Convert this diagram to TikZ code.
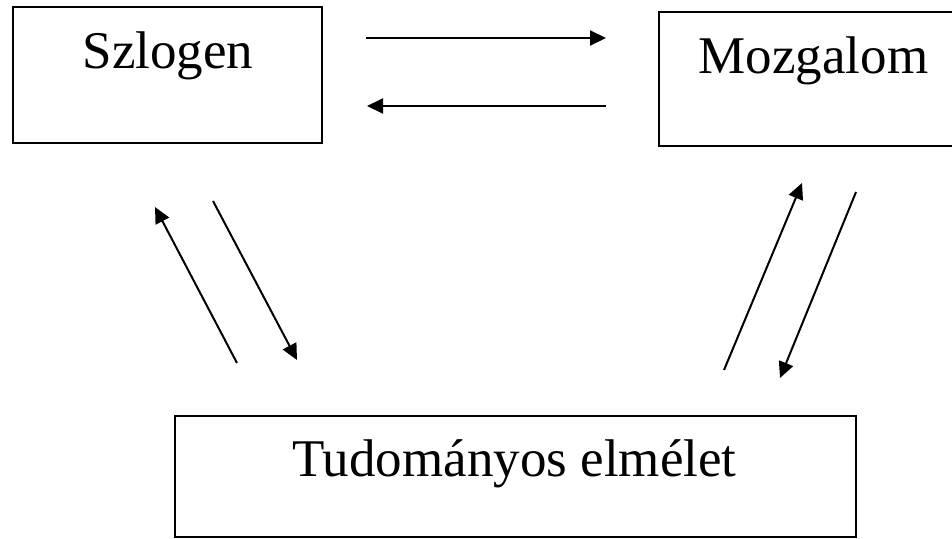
\documentclass[tikz,border=0pt]{standalone}
\usepackage{fontspec}
\setmainfont{Liberation Serif}
\usetikzlibrary{arrows.meta}
\begin{document}
\begin{tikzpicture}[x=1pt,y=-1pt,
  box/.style={draw=black, line width=2pt, inner sep=0pt, outer sep=0pt},
  lbl/.style={anchor=base, inner sep=0pt, font=\fontsize{53}{60}\selectfont},
  conn/.style={line width=2pt, -{Triangle[length=16pt,width=15pt]}}]
\useasboundingbox (0,0) rectangle (952,538);
% boxes
\node[box, minimum width=309pt, minimum height=136pt] (szl) at (167.5,75) {};
\node[box, minimum width=309pt, minimum height=134pt] (moz) at (813.5,79) {};
\node[box, minimum width=681pt, minimum height=121pt] (tud) at (515.5,476.5) {};
% labels
\node[lbl] (szlt) at (168,68) {Szlogen};
\node[lbl] (mozt) at (813.5,73) {Mozgalom};
\node[lbl] (tudt) at (514.5,476) {Tudományos elmélet};
% connector end points
\coordinate (a1s) at (366,38);  \coordinate (a1e) at (606,38);
\coordinate (a2s) at (606,106); \coordinate (a2e) at (367,106);
\coordinate (a3s) at (237,363); \coordinate (a3e) at (155,207);
\coordinate (a4s) at (213,201); \coordinate (a4e) at (297,360);
\coordinate (a5s) at (724,370); \coordinate (a5e) at (802,183);
\coordinate (a6s) at (856,192); \coordinate (a6e) at (780,378);
% connectors
\draw[conn] (a1s) -- (a1e);
\draw[conn] (a2s) -- (a2e);
\draw[conn] (a3s) -- (a3e);
\draw[conn] (a4s) -- (a4e);
\draw[conn] (a5s) -- (a5e);
\draw[conn] (a6s) -- (a6e);
\end{tikzpicture}
\end{document}
